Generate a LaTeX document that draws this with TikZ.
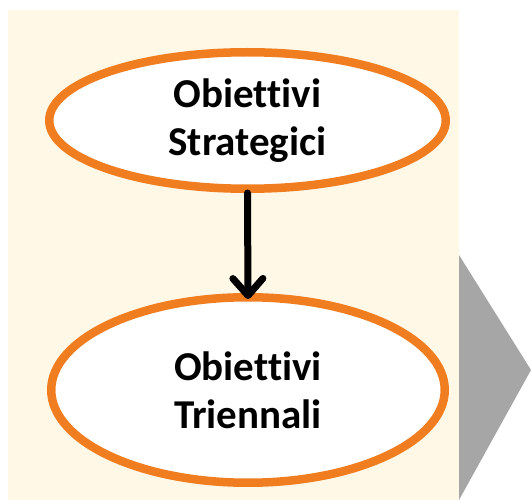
\documentclass[tikz,border=0pt]{standalone}
\usepackage{fontspec}
\setmainfont{Carlito}[Ligatures=CommonOff]
\usetikzlibrary{shapes.geometric,arrows.meta}
\definecolor{cream}{RGB}{255,248,230}
\definecolor{ringorange}{RGB}{240,126,32}
\definecolor{chevrongrey}{RGB}{166,166,166}
\tikzset{
  goal/.style={ellipse, draw=ringorange, line width=8.5pt, fill=white,
    inner sep=0pt, align=center, font=\bfseries\fontsize{41}{48}\selectfont},
  flow/.style={line width=7pt, line cap=round, line join=round,
    -{Straight Barb[length=17pt, width=30pt, line cap=round, line join=round]}}
}
\begin{document}
\begin{tikzpicture}[x=1pt, y=-1pt]
  \useasboundingbox (0,0) rectangle (531,500);
  % panel and side chevron
  \fill[cream] (8,10) rectangle (459,500);
  \fill[chevrongrey] (459,255) -- (531,370) -- (459,500) -- cycle;
  % goal ellipses
  \node[goal, minimum width=396.5pt, minimum height=136.5pt] (strat) at (247.5,120.5)
    {Obiettivi\\Strategici};
  \node[goal, minimum width=393.5pt, minimum height=185.5pt] (trien) at (248,390)
    {Obiettivi\\Triennali};
  % connector
  \draw[flow] (strat.south) -- ([yshift=-6pt]trien.north);
\end{tikzpicture}
\end{document}
